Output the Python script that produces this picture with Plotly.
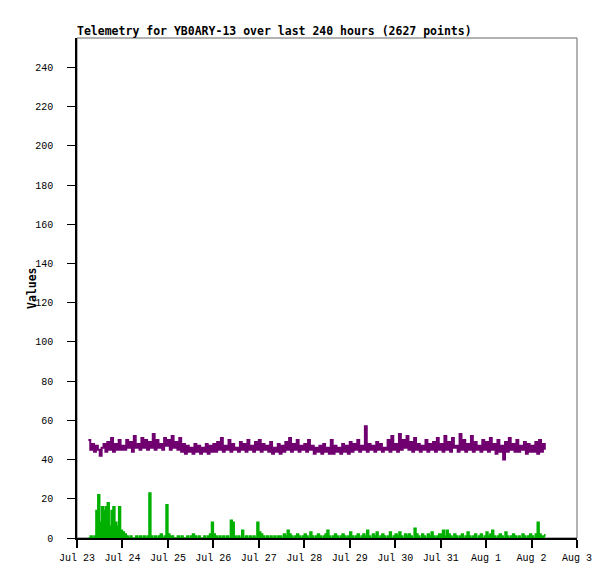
#!/usr/bin/env python3
"""Telemetry chart for YB0ARY-13 (gnuplot-style look) rebuilt in Plotly."""

import pandas as pd
import plotly.graph_objects as go

# ---- data (hourly readings) -------------------------------------------------

start_time = "2024-07-23 06:00"

# purple channel, grouped by day
purple_values = [
    # Jul 23 06h-23h
    50, 45, 48, 44, 47, 45, 42, 46, 48, 44, 49, 45, 51, 44, 48, 45, 50, 45,
    # Jul 24
    47, 45, 50, 46, 49, 44, 52, 46, 48, 45, 51, 46, 50, 45, 49, 46, 53, 45, 50, 46, 48, 45, 51, 47,
    # Jul 25
    50, 45, 52, 46, 49, 45, 51, 44, 48, 43, 47, 44, 46, 43, 48, 44, 47, 43, 46, 44, 48, 43, 47, 44,
    # Jul 26
    48, 44, 49, 45, 51, 44, 47, 45, 50, 44, 48, 45, 46, 44, 49, 45, 48, 44, 50, 45, 47, 44, 49, 45,
    # Jul 27
    50, 44, 48, 45, 47, 44, 49, 43, 46, 44, 48, 43, 47, 44, 49, 45, 51, 44, 48, 45, 50, 44, 47, 45,
    # Jul 28
    48, 44, 50, 45, 47, 43, 46, 44, 47, 43, 48, 44, 46, 43, 50, 43, 47, 44, 46, 43, 48, 44, 47, 43,
    # Jul 29
    49, 44, 48, 45, 50, 44, 47, 45, 57, 44, 48, 45, 47, 44, 49, 45, 48, 44, 46, 45, 50, 44, 52, 45,
    # Jul 30
    48, 44, 53, 45, 50, 46, 52, 45, 49, 44, 51, 45, 48, 44, 47, 45, 50, 44, 48, 45, 49, 44, 51, 45,
    # Jul 31
    48, 44, 52, 45, 49, 44, 51, 46, 47, 44, 53, 45, 50, 44, 48, 45, 52, 44, 49, 45, 47, 44, 50, 45,
    # Aug 1
    49, 44, 51, 45, 48, 43, 50, 44, 47, 40, 49, 44, 51, 45, 48, 44, 50, 44, 47, 45, 49, 43, 48, 44,
    # Aug 2 00h-07h
    47, 44, 49, 43, 50, 44, 48, 45,
]

# green channel, grouped by day
green_values = [
    # Jul 23 06h-23h
    0, 1, 0, 1, 14, 22, 8, 16, 14, 16, 18, 6, 14, 16, 8, 6, 16, 4,
    # Jul 24
    3, 2, 1, 0, 1, 0, 0, 1, 0, 1, 0, 1, 0, 1, 23, 1, 0, 1, 0, 1, 2, 0, 1, 17,
    # Jul 25
    2, 1, 1, 0, 0, 1, 0, 1, 0, 0, 1, 0, 1, 2, 1, 0, 1, 0, 0, 1, 0, 1, 2, 8,
    # Jul 26
    2, 1, 0, 1, 0, 1, 0, 1, 0, 9, 8, 1, 0, 1, 0, 4, 0, 1, 0, 1, 0, 1, 0, 8,
    # Jul 27
    3, 2, 1, 0, 1, 0, 1, 0, 1, 0, 1, 1, 0, 2, 1, 4, 2, 1, 0, 1, 2, 1, 0, 1,
    # Jul 28
    2, 1, 0, 3, 1, 0, 1, 2, 1, 0, 1, 2, 4, 1, 0, 1, 2, 1, 0, 1, 2, 1, 0, 1,
    # Jul 29
    3, 1, 0, 1, 2, 0, 1, 2, 1, 4, 1, 0, 2, 1, 3, 0, 1, 2, 1, 0, 1, 3, 0, 1,
    # Jul 30
    2, 1, 3, 1, 0, 2, 1, 2, 1, 0, 5, 2, 1, 0, 2, 1, 0, 2, 1, 3, 1, 0, 1, 2,
    # Jul 31
    2, 4, 1, 4, 2, 1, 0, 2, 1, 0, 1, 2, 0, 1, 3, 1, 0, 1, 2, 0, 1, 2, 0, 1,
    # Aug 1
    3, 1, 2, 4, 1, 0, 1, 2, 1, 0, 3, 1, 0, 1, 2, 1, 0, 1, 0, 2, 1, 0, 1, 2,
    # Aug 2 00h-07h
    1, 0, 2, 8, 2, 1, 1, 2,
]

times = pd.date_range(start_time, periods=len(purple_values), freq="h")

y_ticks = list(range(0, 241, 20))
x_ticks = pd.date_range("2024-07-23", "2024-08-03", freq="D")

FONT = "DejaVu Sans Mono"
TICK_FONT = "Liberation Mono"

# page body has an 8px margin, so the figure is a bit smaller than the window
W, H = 607, 571
PLOT_W = W - 69 - 38

# ---- figure ------------------------------------------------------------------

fig = go.Figure()

fig.add_trace(go.Scatter(
    x=times, y=purple_values,
    mode="lines", line=dict(color="#700070", width=2, shape="hv"),
    showlegend=False,
))
fig.add_trace(go.Scatter(
    x=times, y=green_values,
    mode="lines", line=dict(color="#00b000", width=1.5, shape="hv"),
    fill="tozeroy", fillcolor="#00b000",
    showlegend=False,
))

# grey frame on top/right, black axes drawn over it on left/bottom
fig.add_shape(type="rect", xref="paper", yref="paper", x0=0, y0=0, x1=1, y1=1,
              line=dict(color="#666666", width=1), layer="below")

# y-axis label placed by hand (gnuplot puts it close to the tick labels)
fig.add_annotation(
    text="<b>Values</b>", textangle=-90,
    xref="paper", yref="paper", x=-45 / PLOT_W, y=0.5,
    xanchor="center", yanchor="middle", showarrow=False,
    font=dict(family=FONT, size=11.5, color="black"),
)

fig.update_layout(
    width=W, height=H,
    margin=dict(l=69, r=38, t=30, b=41),
    paper_bgcolor="white",
    plot_bgcolor="white",
    font=dict(family=TICK_FONT, size=10, color="black"),
    title=dict(
        text="<b>Telemetry for YB0ARY-13 over last 240 hours (2627 points)</b>",
        x=69 / W, xanchor="left", y=1 - 23 / H, yanchor="middle",
        font=dict(family=FONT, size=11.5, color="black"),
    ),
    xaxis=dict(
        range=["2024-07-23", "2024-08-03"],
        tickvals=x_ticks, tickformat="%b %-d",
        showgrid=False, zeroline=False,
        showline=True, linecolor="black", linewidth=2,
        ticks="outside", ticklen=8, tickwidth=2, tickcolor="black",
        ticklabelstandoff=1,
    ),
    yaxis=dict(
        range=[0, 255],
        tickvals=y_ticks,
        showgrid=False, zeroline=False,
        showline=True, linecolor="black", linewidth=1.5,
        ticks="outside", ticklen=8, tickwidth=1, tickcolor="black",
        ticklabelstandoff=12,
    ),
)

fig.write_html("out.html")
